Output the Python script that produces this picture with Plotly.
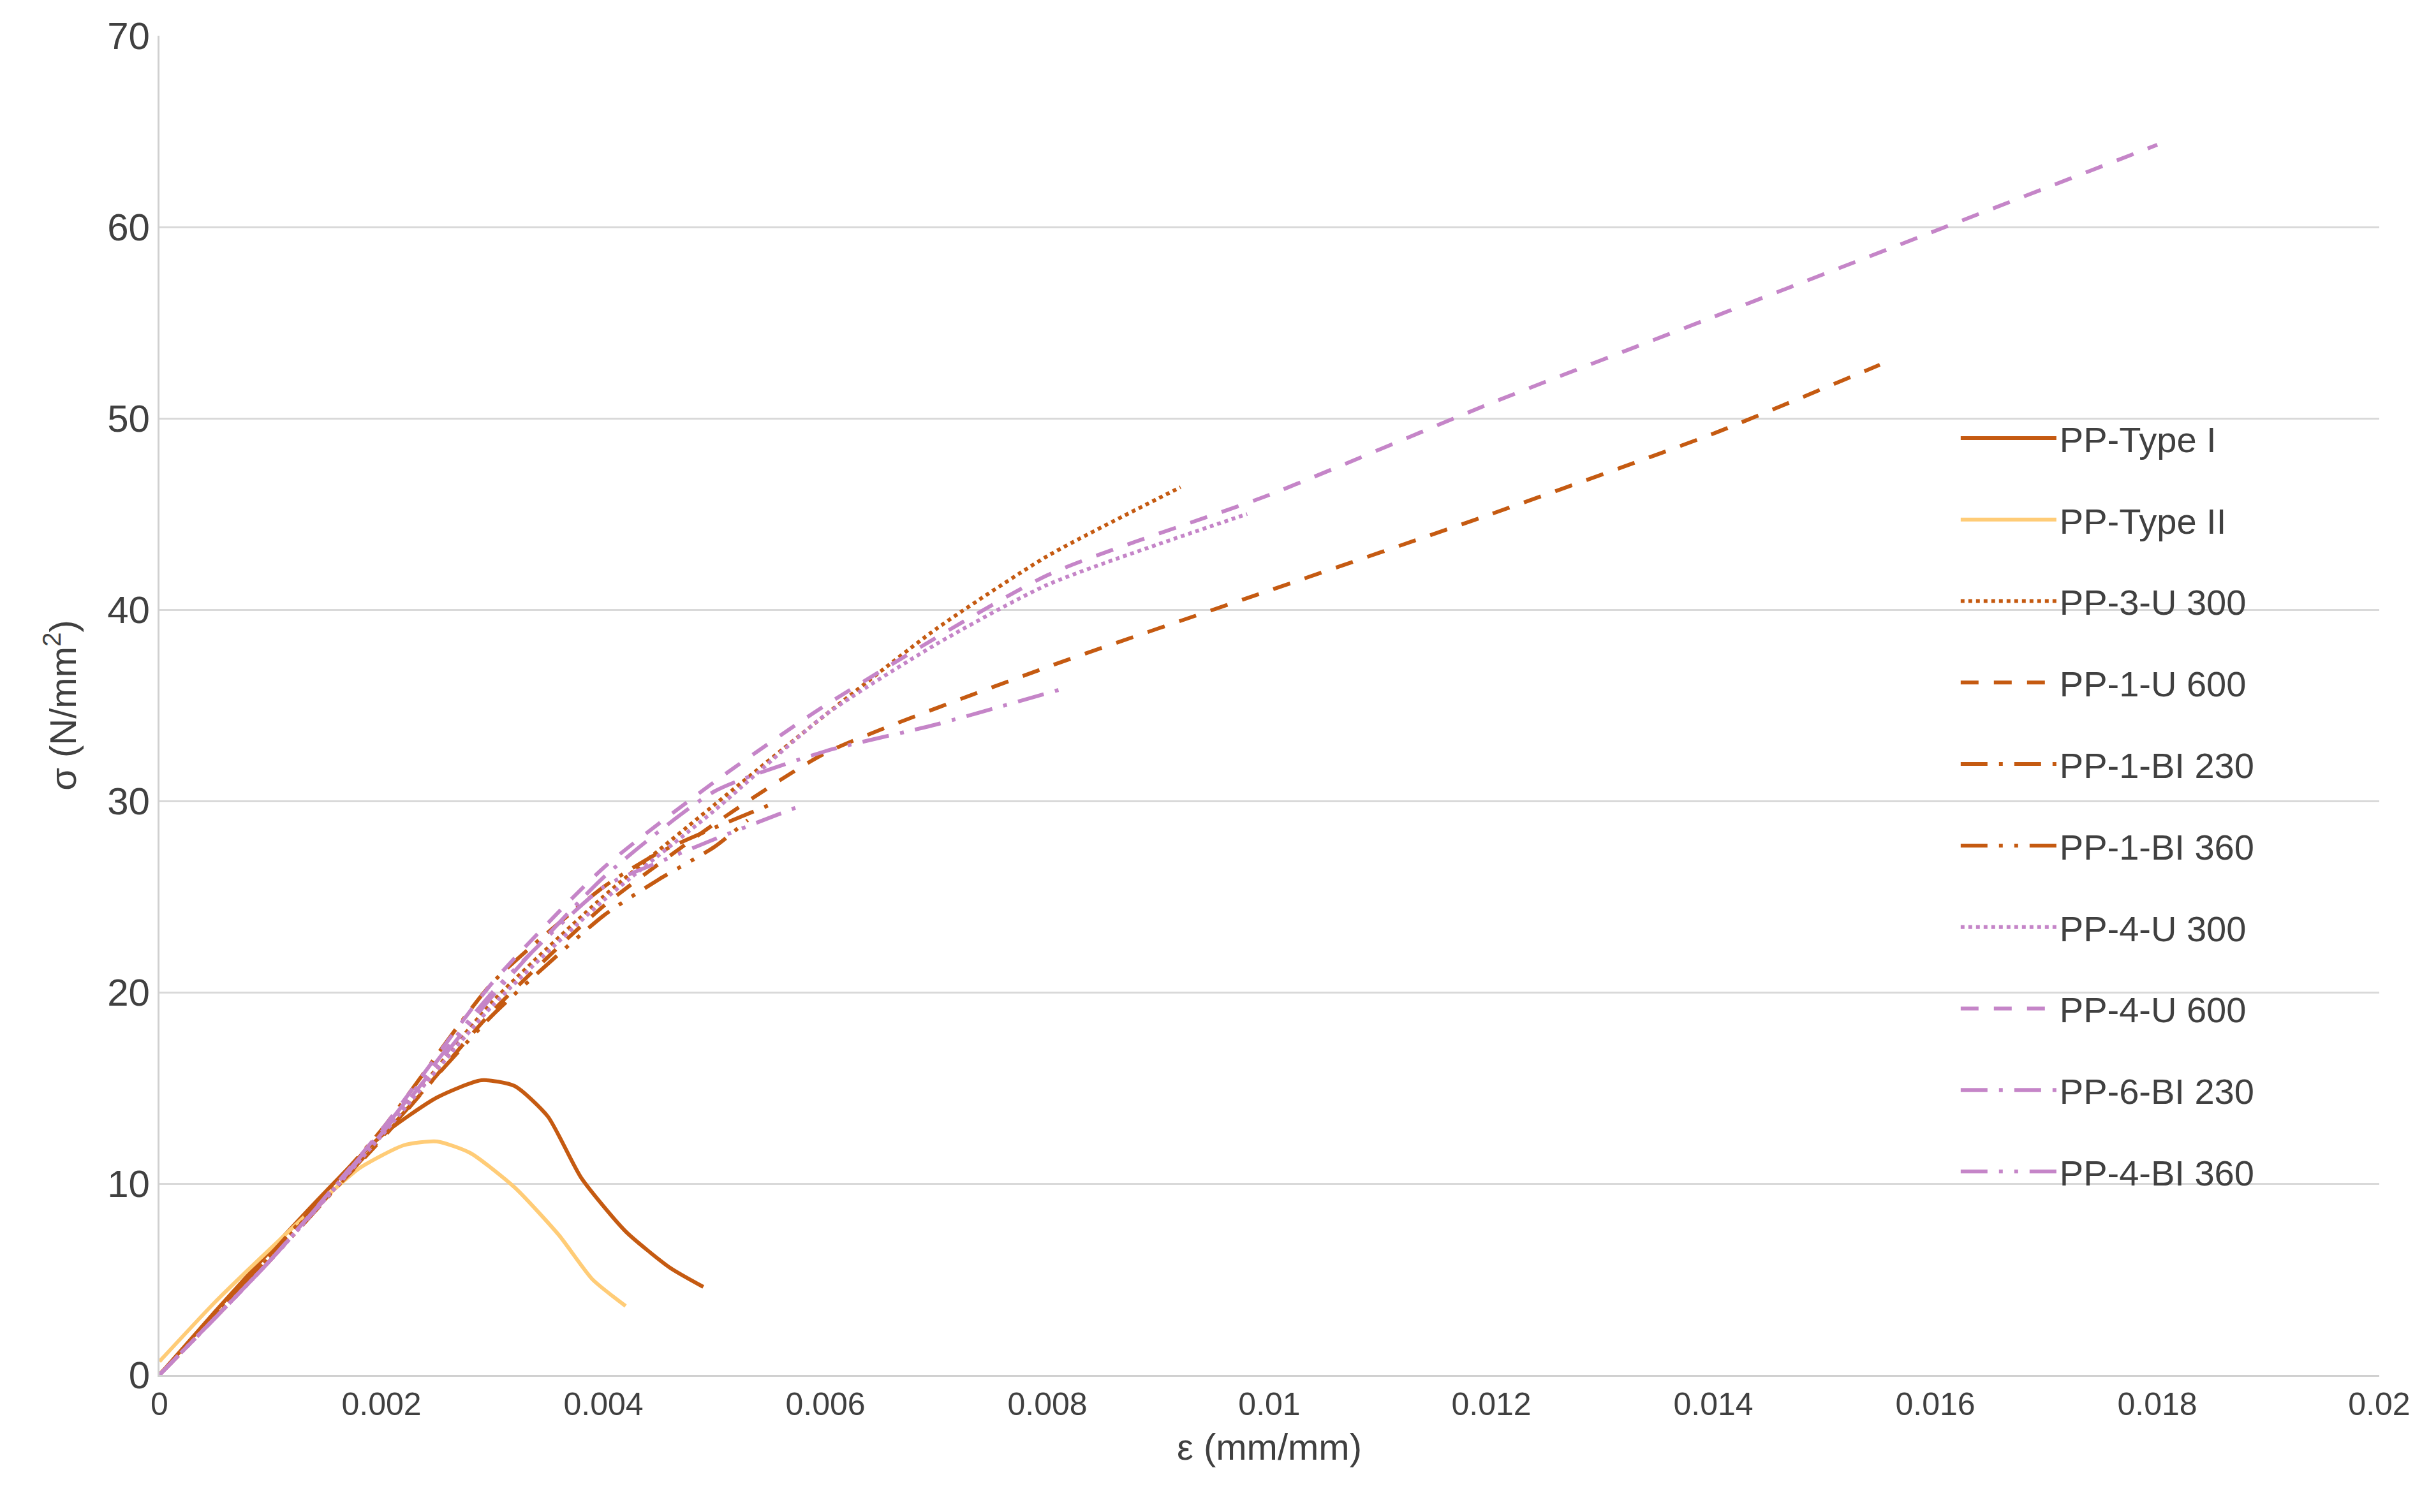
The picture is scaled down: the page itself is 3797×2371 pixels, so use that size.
import plotly.graph_objects as go

ORANGE = "#C55A11"
LIGHT = "#FFCC77"
PURPLE = "#C585C8"

names = ["PP-Type I", "PP-Type II", "PP-3-U 300", "PP-1-U 600", "PP-1-BI 230",
         "PP-1-BI 360", "PP-4-U 300", "PP-4-U 600", "PP-6-BI 230", "PP-4-BI 360"]

type1_x = [0, 0.0005, 0.001, 0.0015, 0.002, 0.0025, 0.0029, 0.0032, 0.0035, 0.0038, 0.0042, 0.0046, 0.0049]
type1_y = [0, 3.3, 6.5, 9.6, 12.5, 14.5, 15.4, 15.1, 13.5, 10.3, 7.5, 5.6, 4.6]
type2_x = [0, 0.0005, 0.001, 0.0015, 0.0018, 0.0022, 0.0025, 0.0028, 0.0032, 0.0036, 0.0039, 0.0042]
type2_y = [0.7, 3.8, 6.6, 9.3, 10.8, 12.0, 12.2, 11.6, 9.8, 7.3, 5.0, 3.6]
u3_300_x = [0, 0.001, 0.002, 0.003, 0.004, 0.005, 0.006, 0.007, 0.008, 0.0092]
u3_300_y = [0, 6.2, 12.5, 19.5, 25.0, 29.8, 34.5, 39.0, 42.8, 46.4]
u1_600_x = [0, 0.001, 0.002, 0.003, 0.004, 0.005, 0.006, 0.008, 0.010, 0.012, 0.014, 0.0155]
u1_600_y = [0, 6.2, 12.3, 19.0, 24.5, 28.8, 32.5, 37.0, 41.0, 45.0, 49.2, 52.8]
bi1_230_x = [0, 0.001, 0.002, 0.003, 0.004, 0.0045, 0.005, 0.0055]
bi1_230_y = [0, 6.3, 12.8, 20.5, 25.5, 27.3, 28.6, 29.8]
bi1_360_x = [0, 0.001, 0.002, 0.003, 0.004, 0.0045, 0.005, 0.0053]
bi1_360_y = [0, 6.0, 12.4, 18.8, 24.0, 25.9, 27.6, 29.0]
u4_300_x = [0, 0.001, 0.002, 0.003, 0.004, 0.005, 0.006, 0.007, 0.008, 0.0098]
u4_300_y = [0, 6.0, 12.5, 19.3, 24.8, 29.5, 34.5, 38.2, 41.3, 45.0]
u4_600_x = [0, 0.001, 0.002, 0.003, 0.004, 0.005, 0.006, 0.008, 0.010, 0.012, 0.014, 0.016, 0.018]
u4_600_y = [0, 6.0, 12.8, 20.5, 26.5, 31.0, 35.0, 41.8, 46.0, 50.8, 55.3, 59.8, 64.3]
bi6_230_x = [0, 0.001, 0.002, 0.003, 0.004, 0.005, 0.006, 0.007, 0.0081]
bi6_230_y = [0, 6.0, 12.6, 19.8, 26.0, 30.5, 32.6, 34.0, 35.8]
bi4_360_x = [0, 0.001, 0.002, 0.003, 0.004, 0.0045, 0.005, 0.0058]
bi4_360_y = [0, 6.0, 12.7, 20.0, 25.5, 26.8, 28.0, 29.8]

series = [
    (type1_x, type1_y, ORANGE, "solid"),
    (type2_x, type2_y, LIGHT, "solid"),
    (u3_300_x, u3_300_y, ORANGE, "dot"),
    (u1_600_x, u1_600_y, ORANGE, "28px,24px"),
    (bi1_230_x, bi1_230_y, ORANGE, "42px,18px,6px,18px"),
    (bi1_360_x, bi1_360_y, ORANGE, "42px,18px,6px,18px,6px,18px"),
    (u4_300_x, u4_300_y, PURPLE, "dot"),
    (u4_600_x, u4_600_y, PURPLE, "28px,24px"),
    (bi6_230_x, bi6_230_y, PURPLE, "42px,18px,6px,18px"),
    (bi4_360_x, bi4_360_y, PURPLE, "42px,18px,6px,18px,6px,18px"),
]

fig = go.Figure()
for name, (x, y, color, dash) in zip(names, series):
    fig.add_trace(go.Scatter(x=x, y=y, name=name, mode="lines", legendgroup=name,
                             line=dict(color=color, width=6, dash=dash, shape="spline",
                                       smoothing=0.6)))

fig.update_layout(
    width=3797, height=2371,
    paper_bgcolor="white", plot_bgcolor="white",
    margin=dict(l=242, r=75, t=48, b=223),
    font=dict(family="Liberation Sans, Arial", color="#404040"),
    legend=dict(x=0.81, y=0.72, xanchor="left", yanchor="top",
                font=dict(size=56, color="#404040"), tracegroupgap=52,
                itemwidth=150, bgcolor="rgba(0,0,0,0)"),
    xaxis=dict(range=[0, 0.02], dtick=0.002, tickformat="~g",
               showgrid=False, showline=True, linecolor="#D0D0D0", linewidth=3,
               ticks="outside", ticklen=0, tickfont=dict(size=50, color="#404040"),
               title=dict(text="ε (mm/mm)", font=dict(size=58, color="#404040"), standoff=20),
               zeroline=False),
    yaxis=dict(range=[0, 70], dtick=10, showgrid=True, gridcolor="#D9D9D9", gridwidth=3,
               showline=True, linecolor="#D0D0D0", linewidth=3,
               tickfont=dict(size=60, color="#404040"),
               title=dict(text="σ (N/mm<sup>2</sup>)", font=dict(size=58, color="#404040"), standoff=30),
               zeroline=False),
)

fig.write_html("out.html")
